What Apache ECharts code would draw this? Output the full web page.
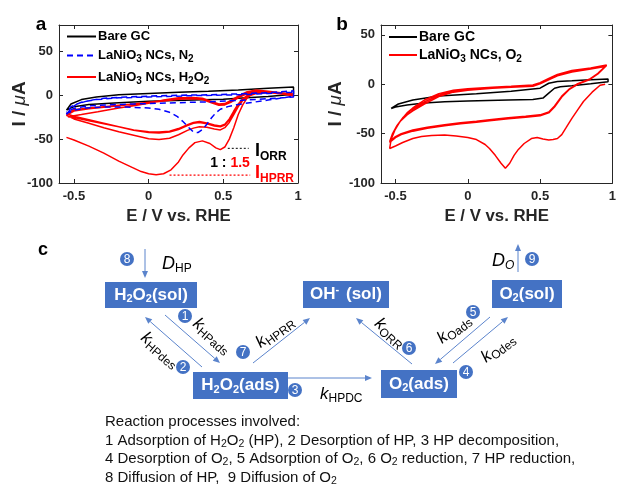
<!DOCTYPE html>
<html><head><meta charset="utf-8">
<script src="https://cdn.jsdelivr.net/npm/echarts@6/dist/echarts.min.js"></script>
<style>html,body{margin:0;padding:0;background:#fff}#c{width:619px;height:484px}</style>
</head><body><div id="c"></div>
<script>
// ---------------- DATA ----------------
const xTicks = [-0.5, 0, 0.5, 1];
const yTicksA = [-100, -50, 0, 50];
const yTicksB = [-100, -50, 0, 50];

// Panel a : Bare GC (E / V, I / uA)
const bareGcA = [[-0.55,-17],[-0.52,-10],[-0.45,-5],[-0.35,-2],[-0.2,0.5],[0,2],[0.2,3.5],[0.4,4.5],[0.6,6],[0.8,8],[0.97,9.5],
  [0.97,1],[0.8,-1.5],[0.6,-3.5],[0.5,-4.5],[0.3,-5.5],[0,-7],[-0.2,-8.5],[-0.4,-10.5],[-0.5,-13],[-0.55,-17]];
// Panel a : LaNiO3 NCs, N2
const lanioN2A = [[-0.55,-22],[-0.52,-15],[-0.48,-10],[-0.4,-6],[-0.3,-3.5],[-0.15,-2],[0,-1],[0.2,0],[0.4,0.5],[0.6,1.5],[0.8,3],[0.97,5],
  [0.97,-1],[0.9,-3],[0.8,-5.5],[0.7,-8],[0.6,-10.5],[0.53,-13],[0.48,-16],[0.45,-20],[0.42,-26],[0.39,-33],[0.36,-39],[0.33,-42.5],[0.3,-42],[0.27,-37],[0.23,-30],[0.19,-24],[0.14,-19.5],[0.07,-16],[0,-14.5],[-0.15,-13.5],[-0.3,-13.5],[-0.42,-14.5],[-0.5,-17],[-0.55,-21],
  [-0.52,-13],[-0.45,-8],[-0.35,-5],[-0.2,-3],[0,-2],[0.3,-0.5],[0.6,0.5],[0.8,2],[0.97,3.5],
  [0.97,-2],[0.8,-4],[0.6,-6],[0.4,-7.5],[0.2,-8.5],[0,-9.5],[-0.2,-10.5],[-0.4,-12],[-0.5,-15],[-0.55,-19]];
// Panel a : LaNiO3 NCs, H2O2 (successive cycles)
const lanioH2O2A = [
  [-0.55,-48],[-0.5,-51],[-0.4,-58],[-0.3,-66],[-0.2,-75],[-0.1,-83],[-0.05,-87],[0,-89.5],[0.05,-90.5],[0.1,-89.5],[0.15,-85],[0.2,-76],[0.23,-68],[0.27,-60],[0.31,-54],[0.36,-52],[0.41,-55],[0.45,-60],[0.48,-62],[0.51,-59],[0.54,-50],[0.57,-37],[0.6,-22],[0.63,-11],[0.66,-3],[0.7,2],[0.75,4.5],[0.85,3.5],[0.97,1.5],
  [0.9,2.5],[0.8,4.5],[0.72,6],[0.66,4],[0.6,-1],[0.55,-6],[0.51,-9.5],[0.47,-10],[0.42,-7],[0.36,-3.5],[0.3,-2.5],[0.2,-3],[0.1,-5.5],[0.04,-8],[-0.1,-12],[-0.2,-14.5],[-0.34,-18.8],[-0.45,-22],[-0.54,-24.5],
  [-0.5,-25.5],[-0.4,-29],[-0.3,-32.5],[-0.2,-36],[-0.1,-39.5],[0,-41.5],[0.07,-42],[0.14,-41],[0.2,-38],[0.26,-33.5],[0.3,-31],[0.34,-30],[0.39,-31.5],[0.44,-34],[0.48,-35],[0.51,-33],[0.54,-27],[0.57,-18],[0.6,-10],[0.63,-4],[0.67,1],[0.72,4],[0.8,4],[0.9,2.5],[0.97,0.5],
  [0.9,1.5],[0.8,3.5],[0.72,5],[0.66,3],[0.6,-2],[0.55,-7],[0.51,-10.5],[0.47,-11],[0.42,-8],[0.36,-4.5],[0.3,-3.5],[0.2,-4],[0.1,-6],[0,-8],[-0.1,-10],[-0.2,-11.5],[-0.3,-13],[-0.4,-14.5],[-0.5,-16.5],[-0.55,-21],
  [-0.5,-24],[-0.4,-28],[-0.3,-32],[-0.2,-36],[-0.1,-40],[0,-42.5],[0.07,-43],[0.14,-42],[0.2,-39],[0.26,-34.5],[0.3,-32],[0.34,-31],[0.39,-32.5],[0.44,-35],[0.48,-36],[0.51,-34],[0.54,-28],[0.57,-19],[0.6,-11],[0.63,-5],[0.67,0],[0.72,3],[0.8,3.5],[0.9,2],[0.97,0],
  [0.8,3],[0.72,4],[0.66,2],[0.6,-3],[0.55,-8],[0.51,-11],[0.47,-11.5],[0.42,-8.5],[0.36,-5],[0.3,-4],[0.2,-4.5],[0.1,-6.5],[0,-8.5],[-0.2,-12],[-0.4,-15.5],[-0.5,-18],[-0.55,-23],
  [-0.5,-27],[-0.4,-32],[-0.3,-37],[-0.2,-41.5],[-0.1,-45.5],[0,-49.5],[0.07,-50.5],[0.14,-49],[0.2,-45],[0.26,-40],[0.3,-37.5],[0.34,-36],[0.39,-36.5],[0.44,-38.5],[0.48,-39.5],[0.51,-37],[0.54,-31],[0.57,-22],[0.6,-13],[0.63,-6],[0.67,-1],[0.72,2],[0.8,3],[0.9,1.5],[0.97,-1]];
// Panel a : ratio guide lines (I_ORR : I_HPRR = 1 : 1.5)
const ratioOrrLine = [[0.53,-60.5],[0.67,-60.5]];
const ratioHprrLine = [[0.14,-91],[0.68,-91]];

// Panel b : Bare GC
const bareGcB = [[-0.53,-24.5],[-0.48,-20],[-0.38,-16],[-0.2,-12],[0.06,-9.5],[0.3,-7],[0.5,-4],[0.56,1],[0.62,2.8],[0.72,3.5],[0.85,4.5],[0.97,5.3],
  [0.97,2.6],[0.85,0.5],[0.72,-1.4],[0.64,-2.5],[0.6,-4],[0.56,-9],[0.52,-14],[0.45,-15.5],[0.28,-16],[0,-17],[-0.16,-17.6],[-0.3,-19],[-0.42,-21],[-0.5,-23],[-0.53,-24.5]];
// Panel b : LaNiO3 NCs, O2 (successive cycles)
const lanioO2B = [
  [0.95,0],[0.915,-1],[0.86,-8],[0.8,-17.5],[0.76,-26],[0.72,-34.5],[0.68,-44],[0.65,-51],[0.62,-55],[0.59,-56],[0.56,-56.5],[0.52,-55.5],[0.48,-54],[0.44,-55],[0.39,-60],[0.35,-66],[0.32,-72],[0.29,-80],[0.26,-85],[0.23,-80],[0.19,-72],[0.15,-65],[0.12,-61],[0.06,-56],[0,-54],[-0.08,-52.5],[-0.16,-51.5],[-0.25,-52],[-0.32,-53],[-0.38,-55],[-0.45,-59],[-0.5,-62.5],[-0.54,-65],
  [-0.53,-56],[-0.5,-45],[-0.46,-36],[-0.42,-29],[-0.38,-24],[-0.3,-16],[-0.2,-9.5],[-0.1,-6],[0,-4.5],[0.17,-3],[0.3,-2],[0.45,-0.8],[0.5,1.5],[0.56,6],[0.62,10],[0.72,14],[0.85,16.5],[0.96,19.5],
  [0.9,11],[0.84,5],[0.76,0.5],[0.7,-5],[0.65,-12],[0.6,-22],[0.56,-28],[0.5,-31],[0.4,-32.5],[0.28,-34],[0.15,-36],[0.06,-37.5],[-0.05,-39],[-0.16,-41],[-0.28,-43.5],[-0.38,-46.3],[-0.46,-50],[-0.5,-53],[-0.54,-58],
  [-0.52,-50],[-0.49,-42],[-0.45,-34],[-0.4,-27],[-0.3,-18],[-0.2,-11],[-0.1,-7],[0,-5],[0.17,-3.5],[0.3,-2.5],[0.45,-1.3],[0.5,1],[0.56,5],[0.62,9],[0.72,13],[0.85,16],[0.96,19],
  [0.9,10.5],[0.84,4.5],[0.76,0],[0.7,-5.5],[0.65,-13],[0.6,-23],[0.56,-29],[0.5,-32],[0.4,-33.5],[0.28,-35],[0.15,-37],[0.06,-38.5],[-0.05,-40],[-0.16,-42],[-0.28,-44.5],[-0.38,-47.5],[-0.46,-51],[-0.5,-54],[-0.54,-59],
  [-0.51,-48],[-0.47,-38],[-0.42,-31],[-0.38,-27],[-0.3,-20],[-0.2,-12.5],[-0.1,-8],[0,-6],[0.17,-4],[0.3,-3],[0.45,-2],[0.5,0.5],[0.56,4.5],[0.62,8.5],[0.72,12.5],[0.85,15.5],[0.95,18]];

// Panel c : texts
const boxLabels = ['H{s|2}O{s|2}(sol)', 'OH{p|-} (sol)', 'O{s|2}(sol)', 'H{s|2}O{s|2}(ads)', 'O{s|2}(ads)'];
const stepNumbers = ['1','2','3','4','5','6','7','8','9'];
const rateSubs = ['HPads','HPdes','HPRR','ORR','Oads','Odes'];
const processLines = [
  'Reaction processes involved:',
  '1 Adsorption of H{s|2}O{s|2} (HP), 2 Desorption of HP, 3 HP decomposition,',
  '4 Desorption of O{s|2}, 5 Adsorption of O{s|2}, 6 O{s|2} reduction, 7 HP reduction,',
  '8 Diffusion of HP,  9 Diffusion of O{s|2}'];

// ---------------- LAYOUT ----------------
const FONT = '"Liberation Sans", Arial, Helvetica, sans-serif';
const AX = '#262626';
const BLUE = '#4472C4';
const boxLayout = [[105,282,92,26],[303,281,86,27],[492,280,70,28],[193,372,95,27],[381,370,76,28]];
const arrowLayout = [[165,315,220,363],[202,367,145,317],[288,378,372,378],[453,363,508,317],[490,317,435,364],[412,364,356,318],[253,363,310,318],[145,249,145,278],[518,272,518,244]];
const circleLayout = [[185,316],[183,367],[295,390],[466,372],[473,312],[409,348],[243,352],[127,259],[532,259]];
const rateLayout = [[212,336,-41],[160,350,-41],[275,332,36],[390,333,-42],[454,329,37],[498,348,37]];

const chart = echarts.init(document.getElementById('c'), null, {renderer:'canvas', width:619, height:484});

function subFmt(name){ return name.replace(/([A-Za-z])(\d)/g, '$1{s|$2}'); }

function xAx(grid, pos, show){
  return {gridIndex:grid, type:'value', min:-0.6, max:1, position:pos,
    axisLine:{onZero:false, lineStyle:{color:AX, width:1}},
    axisTick:{inside:true, length:4, customValues:xTicks, lineStyle:{color:AX}},
    axisLabel:{show:show, customValues:xTicks, color:AX, fontWeight:'bold', fontSize:13, fontFamily:FONT, margin:7},
    splitLine:{show:false},
    name: show ? 'E / V vs. RHE' : '', nameLocation:'middle', nameGap:25,
    nameTextStyle:{color:AX, fontWeight:'bold', fontSize:16.8, fontFamily:FONT}};
}
function yAx(grid, pos, show, maxV, ticks, gap){
  return {gridIndex:grid, type:'value', min:-100, max:maxV, position:pos,
    axisLine:{onZero:false, lineStyle:{color:AX, width:1}},
    axisTick:{inside:true, length:4, customValues:ticks, lineStyle:{color:AX}},
    axisLabel:{show:show, customValues:ticks, color:AX, fontWeight:'bold', fontSize:13, fontFamily:FONT, margin:6},
    splitLine:{show:false},
    name: show ? '{b|I / }{i|μ}{b|A}' : '', nameLocation:'middle', nameGap:gap, nameMoveOverlap:false,
    nameTextStyle:{rich:{b:{fontSize:19, fontWeight:'bold', fontFamily:FONT, color:AX}, i:{fontSize:19, fontStyle:'italic', fontFamily:FONT, color:AX}}}};
}
function lineSeries(name, xi, data, color, width, type, z){
  return {name:name, type:'line', xAxisIndex:xi, yAxisIndex:xi, data:data, symbol:'none', smooth:false,
    lineStyle:{color:color, width:width, type:type}, itemStyle:{color:color}, z:z, silent:true, animation:false};
}

// graphic elements for panel c and annotations
const G = [];
const T = (x,y,text,style) => G.push({type:'text', x:x, y:y, silent:true, style:Object.assign({text:text, fontFamily:FONT}, style)});
T(41,25,'a',{fontSize:19, fontWeight:'bold', fill:'#000', align:'center', verticalAlign:'middle'});
T(342,25,'b',{fontSize:19, fontWeight:'bold', fill:'#000', align:'center', verticalAlign:'middle'});
T(43,250,'c',{fontSize:18, fontWeight:'bold', fill:'#000', align:'center', verticalAlign:'middle'});
// ratio annotation
T(255,151,'{m|I}{s|ORR}',{align:'left', verticalAlign:'middle', rich:{m:{fontSize:18,fontWeight:'bold',fontFamily:FONT,fill:'#000'}, s:{fontSize:12,fontWeight:'bold',fontFamily:FONT,fill:'#000',padding:[12,0,0,0]}}});
T(230,163,'{k|1 : }{r|1.5}',{align:'center', verticalAlign:'middle', rich:{k:{fontSize:14,fontWeight:'bold',fontFamily:FONT,fill:'#000'}, r:{fontSize:14,fontWeight:'bold',fontFamily:FONT,fill:'#ff0000'}}});
T(255,173,'{m|I}{s|HPRR}',{align:'left', verticalAlign:'middle', rich:{m:{fontSize:18,fontWeight:'bold',fontFamily:FONT,fill:'#ff0000'}, s:{fontSize:12,fontWeight:'bold',fontFamily:FONT,fill:'#ff0000',padding:[12,0,0,0]}}});

// boxes
boxLayout.forEach((b,i)=>{
  G.push({type:'rect', silent:true, shape:{x:b[0], y:b[1], width:b[2], height:b[3]}, style:{fill:BLUE}});
  T(b[0]+b[2]/2, b[1]+b[3]/2, boxLabels[i], {fill:'#fff', fontSize:17, fontWeight:'bold', align:'center', verticalAlign:'middle',
    rich:{s:{fontSize:11, fontWeight:'bold', fontFamily:FONT, fill:'#fff', padding:[8,0,0,0]}, p:{fontSize:11, fontWeight:'bold', fontFamily:FONT, fill:'#fff', padding:[0,2,9,0]}}});
});
// arrows
arrowLayout.forEach(a=>{
  const dx=a[2]-a[0], dy=a[3]-a[1], L=Math.hypot(dx,dy), ux=dx/L, uy=dy/L, hl=7, hw=3;
  const bx=a[2]-ux*hl, by=a[3]-uy*hl;
  G.push({type:'line', silent:true, shape:{x1:a[0],y1:a[1],x2:bx,y2:by}, style:{stroke:'#5B84CC', lineWidth:1}});
  G.push({type:'polygon', silent:true, shape:{points:[[a[2],a[3]],[bx-uy*hw,by+ux*hw],[bx+uy*hw,by-ux*hw]]}, style:{fill:'#5B84CC'}});
});
// numbered circles
circleLayout.forEach((c,i)=>{
  G.push({type:'circle', silent:true, shape:{cx:c[0], cy:c[1], r:7}, style:{fill:BLUE}});
  T(c[0], c[1]+0.5, stepNumbers[i], {fill:'#fff', fontSize:12, align:'center', verticalAlign:'middle'});
});
// rate constants
const kRich = {k:{fontSize:17, fontStyle:'italic', fontFamily:FONT, fill:'#000'}, s:{fontSize:12, fontFamily:FONT, fill:'#000', padding:[9,0,0,0]}};
rateLayout.forEach((r,i)=>{
  G.push({type:'text', silent:true, x:r[0], y:r[1], rotation:r[2]*Math.PI/180,
    style:{text:'{k|k}{s|'+rateSubs[i]+'}', rich:kRich, align:'center', verticalAlign:'middle'}});
});
T(320,394,'{k|k}{s|HPDC}',{align:'left', verticalAlign:'middle', rich:kRich});
T(162,264,'{k|D}{s|HP}',{align:'left', verticalAlign:'middle', rich:{k:{fontSize:18, fontStyle:'italic', fontFamily:FONT, fill:'#000'}, s:{fontSize:12, fontFamily:FONT, fill:'#000', padding:[9,0,0,0]}}});
T(492,261,'{k|D}{s|O}',{align:'left', verticalAlign:'middle', rich:{k:{fontSize:18, fontStyle:'italic', fontFamily:FONT, fill:'#000'}, s:{fontSize:12, fontStyle:'italic', fontFamily:FONT, fill:'#000', padding:[9,0,0,0]}}});
// process list
processLines.forEach((t,i)=>{
  T(105, 422 + i*18.5, t, {fontSize:15, fill:'#111', align:'left', verticalAlign:'middle',
    rich:{s:{fontSize:10.5, fontFamily:FONT, fill:'#111', padding:[7,0,0,0]}}});
});

const option = {
  animation:false,
  textStyle:{fontFamily:FONT},
  grid:[{left:59, top:25, width:239, height:158}, {left:381, top:25, width:243, height:158}],
  xAxis:[xAx(0,'bottom',true), xAx(0,'top',false), xAx(1,'bottom',true), xAx(1,'top',false)],
  yAxis:[yAx(0,'left',true,80,yTicksA,30), yAx(0,'right',false,80,yTicksA,0), yAx(1,'left',true,60,yTicksB,36), yAx(1,'right',false,60,yTicksB,0)],
  legend:[
    {data:['Bare GC','LaNiO3 NCs, N2','LaNiO3 NCs, H2O2'], orient:'vertical', left:66, top:30, itemWidth:29, itemHeight:14, itemGap:6, padding:0, selectedMode:false,
     itemStyle:{opacity:0},
     formatter:subFmt, textStyle:{fontSize:13, fontWeight:'bold', fontFamily:FONT, color:'#000', padding:[0,0,0,-3],
       rich:{s:{fontSize:10, fontWeight:'bold', fontFamily:FONT, color:'#000', padding:[8,0,0,0]}}}},
    {data:['Bare GC','LaNiO3 NCs, O2'], orient:'vertical', left:388, top:30, itemWidth:28, itemHeight:14, itemGap:4, padding:0, selectedMode:false,
     itemStyle:{opacity:0},
     formatter:subFmt, textStyle:{fontSize:14, fontWeight:'bold', fontFamily:FONT, color:'#000', padding:[0,0,0,-3],
       rich:{s:{fontSize:10, fontWeight:'bold', fontFamily:FONT, color:'#000', padding:[8,0,0,0]}}}}
  ],
  series:[
    lineSeries('Bare GC', 0, bareGcA, '#000000', 1.5, 'solid', 2),
    lineSeries('LaNiO3 NCs, H2O2', 0, lanioH2O2A, '#ff0000', 1.5, 'solid', 3),
    lineSeries('LaNiO3 NCs, N2', 0, lanioN2A, '#0000ff', 1.5, [6,4], 4),
    lineSeries('ratio ORR', 0, ratioOrrLine, '#000000', 1, [2,2], 5),
    lineSeries('ratio HPRR', 0, ratioHprrLine, '#ff0000', 1.2, [2,2], 5),
    lineSeries('Bare GC', 2, bareGcB, '#000000', 1.5, 'solid', 2),
    lineSeries('LaNiO3 NCs, O2', 2, lanioO2B, '#ff0000', 1.5, 'solid', 3)
  ],
  graphic:G
};
chart.setOption(option);
</script></body></html>
